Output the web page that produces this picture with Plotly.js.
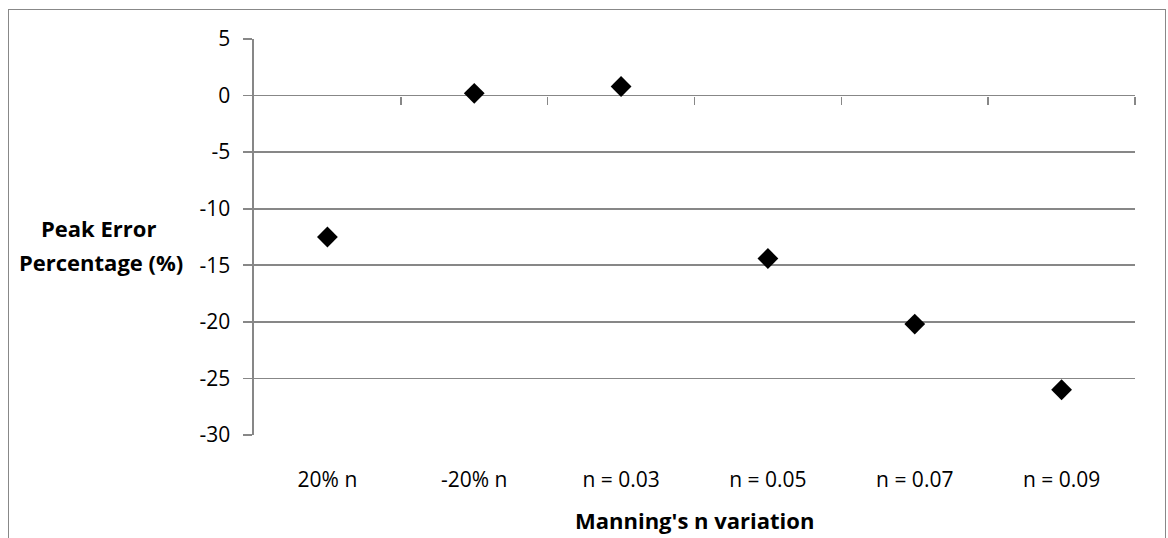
<!DOCTYPE html>
<html>
<head>
<meta charset="utf-8">
<script src="https://cdn.plot.ly/plotly-3.0.1.min.js"></script>
<style>
  html, body { margin: 0; padding: 0; background: #fff; }
  #wrap { position: relative; width: 1168px; height: 538px; overflow: hidden; }
  #chart { position: absolute; left: 0; top: 0; width: 1168px; height: 538px; }
  #frame { position: absolute; left: 8px; top: 9px; width: 1156px; height: 600px;
           border: 1px solid #888888; pointer-events: none; z-index: 10; }
</style>
</head>
<body>
<div id="wrap">
  <div id="chart"></div>
  <div id="frame"></div>
</div>
<script>
const categories = ["20% n", "-20% n", "n = 0.03", "n = 0.05", "n = 0.07", "n = 0.09"];
const peakError = [-12.5, 0.2, 0.8, -14.4, -20.2, -26.0];
const yTicks = [5, 0, -5, -10, -15, -20, -25, -30];
const yTitleLines = ["Peak Error", "Percentage (%)"];
const xTitle = "Manning's n variation";

const boundaryTicks = categories.map((c, i) => i + 0.5);
const FONT = "Open Sans, Liberation Sans, sans-serif";
const GRID = "#878787";

const traces = [
  {
    type: "scatter", mode: "markers",
    x: categories, y: peakError,
    xaxis: "x", yaxis: "y",
    marker: { symbol: "diamond", size: 16, color: "#000000" },
    showlegend: false, hoverinfo: "x+y"
  },
  {
    type: "scatter", mode: "markers",
    x: [], y: [], xaxis: "x2", yaxis: "y",
    showlegend: false, hoverinfo: "skip"
  }
];

const yMin = -30, yMax = 5;

const layout = {
  width: 1168, height: 538,
  margin: { l: 254, r: 33, t: 39, b: 103, pad: 0 },
  paper_bgcolor: "#ffffff", plot_bgcolor: "#ffffff",
  font: { family: FONT, size: 21, color: "#000000" },
  showlegend: false,
  xaxis: {
    type: "category",
    range: [-0.5, categories.length - 0.5],
    showgrid: false, zeroline: false, showline: false,
    ticks: "", ticklabelstandoff: 30,
    tickfont: { family: FONT, size: 21, color: "#000000" },
    fixedrange: true
  },
  xaxis2: {
    type: "linear",
    overlaying: "x", anchor: "free",
    position: (0 - yMin) / (yMax - yMin),
    range: [-0.5, categories.length - 0.5],
    tickvals: boundaryTicks,
    showticklabels: false,
    ticks: "outside", ticklen: 8, tickwidth: 1.6, tickcolor: GRID,
    showgrid: false, zeroline: false, showline: false,
    fixedrange: true
  },
  yaxis: {
    range: [yMin, yMax],
    tickvals: yTicks,
    ticktext: yTicks.map(String),
    showgrid: true, gridcolor: GRID, gridwidth: 1.6,
    zeroline: false,
    showline: true, linecolor: GRID, linewidth: 1.6,
    ticks: "outside", ticklen: 9, tickwidth: 1.6, tickcolor: GRID,
    ticklabelstandoff: 9,
    tickfont: { family: FONT, size: 21, color: "#000000" },
    fixedrange: true
  },
  annotations: [
    {
      text: "<b>" + yTitleLines[0] + "</b>",
      xref: "paper", yref: "paper",
      x: (98 - 254) / 881, y: (435 - 228) / 396,
      xanchor: "center", yanchor: "middle", showarrow: false,
      font: { family: FONT, size: 22, color: "#000000" }
    },
    {
      text: "<b>" + yTitleLines[1] + "</b>",
      xref: "paper", yref: "paper",
      x: (101 - 254) / 881, y: (435 - 262) / 396,
      xanchor: "center", yanchor: "middle", showarrow: false,
      font: { family: FONT, size: 22, color: "#000000" }
    },
    {
      text: "<b>" + xTitle + "</b>",
      xref: "paper", yref: "paper",
      x: 0.5, y: (435 - 520) / 396,
      xanchor: "center", yanchor: "middle", showarrow: false,
      font: { family: FONT, size: 22, color: "#000000" }
    }
  ]
};

Plotly.newPlot("chart", traces, layout, { displayModeBar: false, staticPlot: true });
</script>
</body>
</html>
